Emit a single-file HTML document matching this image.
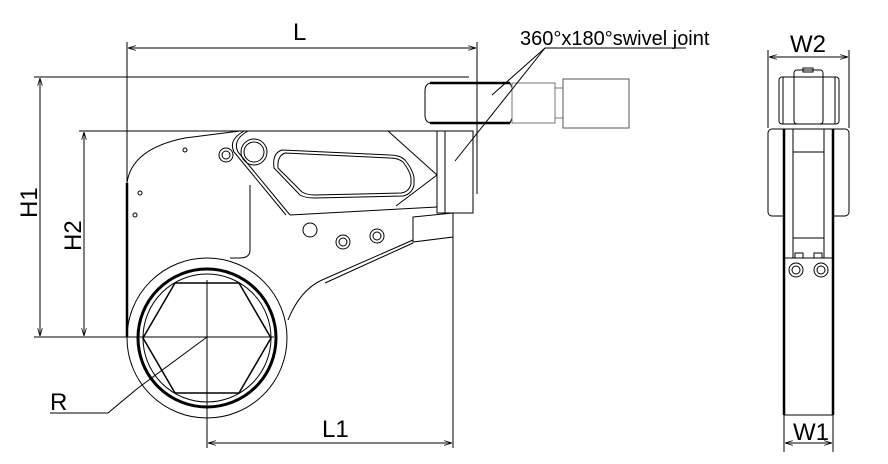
<!DOCTYPE html>
<html><head><style>body{margin:0;background:#fff}svg{display:block}text{font-family:"Liberation Sans",sans-serif;fill:#000}</style></head><body>
<svg width="888" height="464" viewBox="0 0 888 464" xmlns="http://www.w3.org/2000/svg">
<defs><marker id="a" viewBox="0 0 10 6" refX="10" refY="3" markerWidth="8" markerHeight="5" orient="auto-start-reverse"><path d="M0,0L10,3L0,6" fill="none" stroke="#000" stroke-width="1"/></marker></defs>
<g stroke="#000" fill="none" stroke-width="1">
<!-- dimension lines -->
<line x1="127" y1="42" x2="127" y2="183"/>
<line x1="477" y1="42" x2="477" y2="194"/>
<line x1="128" y1="48" x2="476" y2="48" marker-start="url(#a)" marker-end="url(#a)"/>
<line x1="34" y1="77" x2="469" y2="77"/>
<line x1="79" y1="131" x2="440" y2="131"/>
<line x1="34" y1="337" x2="274" y2="337"/>
<line x1="40" y1="78" x2="40" y2="336" marker-start="url(#a)" marker-end="url(#a)"/>
<line x1="84" y1="132" x2="84" y2="336" marker-start="url(#a)" marker-end="url(#a)"/>
<line x1="207" y1="280" x2="207" y2="448"/>
<line x1="453" y1="222" x2="453" y2="448"/>
<line x1="208" y1="443" x2="452" y2="443" marker-start="url(#a)" marker-end="url(#a)"/>
<polyline points="50,413 108,413 138,388"/>
<line x1="138" y1="388" x2="207" y2="337"/>
<!-- body -->
<path d="M127,183 C130,160 150,145 185,138 L240,131"/>
<path d="M127,183 L127,337" stroke-width="2.5"/>
<path d="M250,185 L250,250 Q250,258 240,258 L230,258"/>
<path d="M248,131 Q232,140 238,152 L290,215"/>
<path d="M244,131 Q228,140 234,152 L286,215"/>
<path d="M290,215 L437,207"/>
<path d="M388,131 L437,175"/>
<path d="M396,206 L437,175"/>
<rect x="437" y="131" width="36" height="82"/>
<line x1="445" y1="131" x2="445" y2="213"/>
<path d="M282,150 Q272,153 274,168 L300,195 Q305,198 315,198 L403,196 Q412,194 414,185 L414,178 Q413,170 405,160 Q400,155 390,155 Z"/>
<path d="M285,153 Q277,156 278,168 L302,192 Q307,195 315,195 L401,193 Q409,192 411,184 L411,178 Q410,171 403,162 Q398,158 390,158 Z"/>
<path d="M413,217 L453,213 L453,237 L413,242 Z"/>
<path d="M413,240 L322,280 Q300,290 288,320"/>
<path d="M413,243 L325,283"/>
<circle cx="207" cy="338" r="80"/>
<circle cx="207" cy="338" r="69" stroke-width="3"/>
<circle cx="207" cy="338" r="64"/>
<polygon points="143,338 175,283 239,283 271,338 239,393 175,393" stroke-width="1.5"/>
<circle cx="185" cy="150" r="2"/><circle cx="140" cy="193" r="2"/><circle cx="135" cy="215" r="2"/>
<circle cx="226" cy="155" r="7"/><circle cx="226" cy="155" r="4"/>
<circle cx="254" cy="152" r="13"/><circle cx="254" cy="152" r="10"/>
<circle cx="310" cy="230" r="7"/>
<circle cx="343" cy="242" r="7"/><circle cx="343" cy="242" r="4"/>
<circle cx="377" cy="236" r="7"/><circle cx="377" cy="236" r="4"/>
<!-- motor -->
<path d="M432,83 L510,83 L512,88 L512,118 L510,123 L432,123 Q425,123 425,115 L425,91 Q425,83 432,83 Z"/>
<line x1="430" y1="83" x2="510" y2="83" stroke-width="2.5"/><line x1="430" y1="123" x2="510" y2="123" stroke-width="2.5"/>
<rect x="512" y="83" width="43" height="40" stroke="#777"/>
<rect x="555" y="88" width="8" height="30" stroke="#777"/>
<rect x="563" y="79" width="66" height="49" stroke="#555"/>
<polyline points="686,48 545,48 492,95" />
<line x1="545" y1="48" x2="455" y2="161"/>
<!-- side view -->
<line x1="768" y1="50" x2="768" y2="128"/><line x1="849" y1="50" x2="849" y2="128"/>
<line x1="769" y1="57" x2="848" y2="57" marker-start="url(#a)" marker-end="url(#a)"/>
<rect x="779" y="77" width="60" height="47" rx="3"/>
<line x1="783" y1="77" x2="783" y2="124"/><line x1="835" y1="77" x2="835" y2="124"/>
<rect x="794" y="70" width="29" height="54" rx="3"/>
<rect x="803" y="68" width="10" height="4"/>
<rect x="768" y="129" width="81" height="87" rx="4"/>
<rect x="784" y="129" width="49" height="286" fill="#fff"/>
<line x1="784" y1="129" x2="784" y2="415" stroke-width="2.5"/>
<line x1="833" y1="129" x2="833" y2="415" stroke-width="2.5"/>
<line x1="793" y1="129" x2="793" y2="258"/><line x1="824" y1="129" x2="824" y2="258"/>
<line x1="793" y1="152" x2="824" y2="152"/><line x1="793" y1="238" x2="824" y2="238"/>
<line x1="784" y1="258" x2="833" y2="258"/>
<rect x="795" y="253" width="8" height="5"/><rect x="814" y="253" width="8" height="5"/>
<circle cx="796" cy="270" r="7"/><circle cx="796" cy="270" r="4"/>
<circle cx="821" cy="270" r="7"/><circle cx="821" cy="270" r="4"/>
<line x1="784" y1="415" x2="784" y2="452"/><line x1="833" y1="415" x2="833" y2="452"/>
<line x1="785" y1="443" x2="832" y2="443" marker-start="url(#a)" marker-end="url(#a)"/>
</g>
<text x="293" y="40" font-size="24">L</text>
<text x="520" y="45" font-size="20">360°x180°swivel joint</text>
<text x="322" y="437" font-size="24">L1</text>
<text x="50" y="410" font-size="24">R</text>
<text x="790" y="52" font-size="24">W2</text>
<text x="793" y="440" font-size="24">W1</text>
<text transform="translate(37,218) rotate(-90)" font-size="24">H1</text>
<text transform="translate(81,251) rotate(-90)" font-size="24">H2</text>
</svg>
</body></html>
